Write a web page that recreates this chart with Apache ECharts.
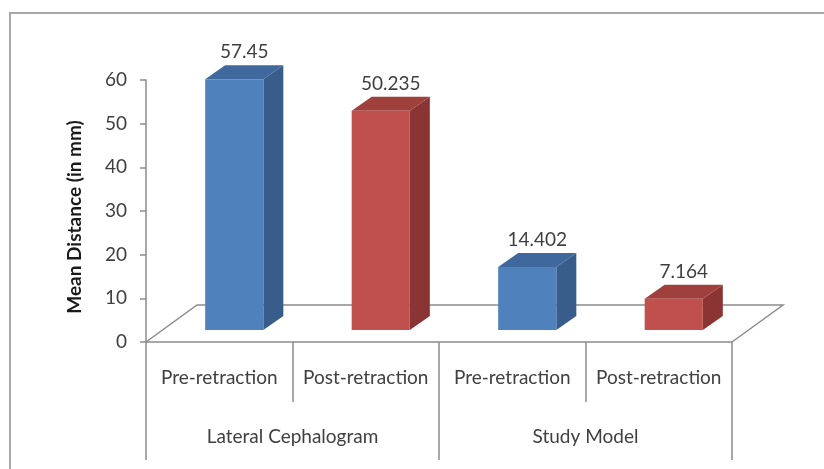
<!DOCTYPE html>
<html>
<head>
<meta charset="utf-8">
<script src="https://cdn.jsdelivr.net/npm/echarts@6/dist/echarts.min.js"></script>
<style>
  html, body { margin: 0; padding: 0; background: #fff; }
  #chart { width: 824px; height: 469px; }
</style>
</head>
<body>
<div id="chart"></div>
<script>
// Mean distance per measurement method and retraction phase
const phases = ['Pre-retraction', 'Post-retraction', 'Pre-retraction', 'Post-retraction'];
const methods = ['Lateral Cephalogram', 'Study Model'];
const meanDistance = [57.45, 50.235, 14.402, 7.164];
const valueLabels = ['57.45', '50.235', '14.402', '7.164'];
const yMin = 0, yMax = 60, yStep = 10;
const yTitle = 'Mean Distance (in mm)';

// face colours per phase: [front, side, top]
const phaseColors = {
  'Pre-retraction': ['#4F81BD', '#385D8A', '#3F689C'],
  'Post-retraction': ['#C0504D', '#8A3533', '#A0403D']
};

const AXIS_GREY = '#8C8C8C';
const TEXT = '#404040';
const FONT = 'Lato, "Noto Sans", sans-serif';

// oblique projection used for the 3-D look
const FLOOR_DX = 51, FLOOR_DY = 37;   // depth of the floor plate
const BAR_DX = 20, BAR_DY = 14;       // depth of each column
const BAR_SHIFT_X = 15, BAR_LIFT = 12; // column front face set back from the floor front edge

const chart = echarts.init(document.getElementById('chart'), null, { renderer: 'canvas' });

function renderFloor(params, api) {
  const cs = params.coordSys;
  const x0 = cs.x, y0 = cs.y + cs.height, x1 = cs.x + cs.width;
  return {
    type: 'polyline',
    shape: {
      points: [[x0, y0], [x0 + FLOOR_DX, y0 - FLOOR_DY], [x1 + FLOOR_DX, y0 - FLOOR_DY], [x1, y0]]
    },
    style: { stroke: AXIS_GREY, lineWidth: 1.5, fill: null },
    silent: true
  };
}

function renderColumn(params, api) {
  const idx = api.value(0);
  const v = api.value(1);
  const base = api.coord([idx, 0]);
  const top = api.coord([idx, v]);
  const band = api.size([1, 0])[0];
  const w = band * 0.397;
  const cx = base[0] + BAR_SHIFT_X;
  const L = cx - w / 2, R = cx + w / 2;
  const fb = base[1] - BAR_LIFT;
  const ft = top[1] - BAR_LIFT;
  const c = phaseColors[phases[idx]];
  return {
    type: 'group',
    children: [
      {
        type: 'polygon',
        shape: { points: [[R, ft], [R + BAR_DX, ft - BAR_DY], [R + BAR_DX, fb - BAR_DY], [R, fb]] },
        style: { fill: c[1] }
      },
      {
        type: 'polygon',
        shape: { points: [[L, ft], [L + BAR_DX, ft - BAR_DY], [R + BAR_DX, ft - BAR_DY], [R, ft]] },
        style: { fill: c[2] }
      },
      {
        type: 'rect',
        shape: { x: L, y: ft, width: w, height: fb - ft },
        style: { fill: c[0] }
      },
      {
        type: 'text',
        x: cx + BAR_DX / 2,
        y: ft - BAR_DY - 13,
        style: {
          text: valueLabels[idx],
          fill: TEXT,
          font: '19px ' + FONT,
          align: 'center',
          verticalAlign: 'middle'
        }
      }
    ]
  };
}

chart.setOption({
  animation: false,
  backgroundColor: '#fff',
  graphic: [
    {
      type: 'rect',
      shape: { x: 10, y: 13, width: 900, height: 600 },
      style: { fill: null, stroke: '#A8A8A8', lineWidth: 2 },
      silent: true,
      z: -10
    },
    {
      type: 'text',
      x: 75,
      y: 217,
      rotation: Math.PI / 2,
      style: {
        text: yTitle,
        fill: '#1a1a1a',
        font: 'bold 19px ' + FONT,
        align: 'center',
        verticalAlign: 'middle'
      },
      silent: true
    }
  ],
  grid: { left: 146, right: 92, top: 80, bottom: 127 },
  xAxis: [
    {
      type: 'category',
      data: phases,
      position: 'bottom',
      axisLine: { show: true, lineStyle: { color: AXIS_GREY, width: 1.5 } },
      axisTick: { show: true, length: 60, lineStyle: { color: AXIS_GREY, width: 1.5 } },
      axisLabel: {
        margin: 26, color: TEXT, fontFamily: FONT, fontSize: 19, lineHeight: 20, interval: 0
      },
      splitLine: { show: false }
    },
    {
      type: 'category',
      data: methods,
      position: 'bottom',
      offset: 0,
      axisLine: { show: false },
      axisTick: { show: true, length: 118, lineStyle: { color: AXIS_GREY, width: 1.5 } },
      axisLabel: {
        margin: 85, color: TEXT, fontFamily: FONT, fontSize: 19, lineHeight: 20, interval: 0
      },
      splitLine: { show: false }
    }
  ],
  yAxis: {
    type: 'value',
    min: yMin,
    max: yMax,
    interval: yStep,
    axisLine: { show: true, lineStyle: { color: AXIS_GREY, width: 1.5 } },
    axisTick: { show: true, length: 6, lineStyle: { color: AXIS_GREY, width: 1.5 } },
    axisLabel: { margin: 19, color: TEXT, fontFamily: FONT, fontSize: 19 },
    splitLine: { show: false }
  },
  series: [
    {
      type: 'custom',
      name: 'floor',
      xAxisIndex: 0,
      yAxisIndex: 0,
      renderItem: renderFloor,
      data: [[0, 0]],
      silent: true,
      z: 1
    },
    {
      type: 'custom',
      name: 'Mean Distance',
      xAxisIndex: 0,
      yAxisIndex: 0,
      renderItem: renderColumn,
      encode: { x: 0, y: 1 },
      data: meanDistance.map((v, i) => [i, v]),
      z: 2
    }
  ]
});
</script>
</body>
</html>
